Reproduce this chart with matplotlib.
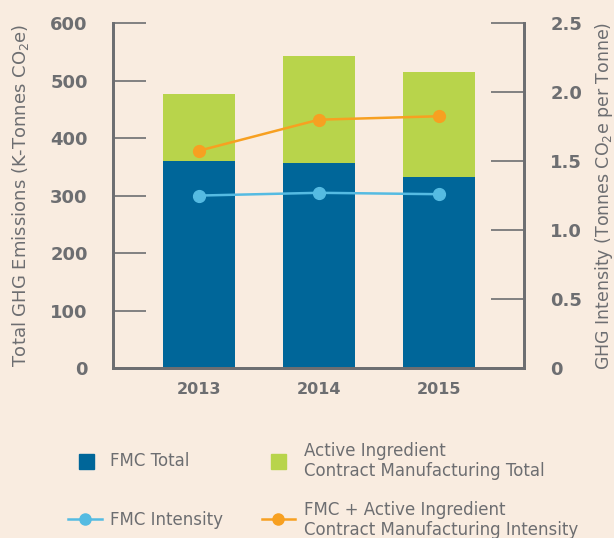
import matplotlib
matplotlib.use("Agg")
import matplotlib.pyplot as plt
from matplotlib.lines import Line2D
from matplotlib.patches import Rectangle

# data
years = ["2013", "2014", "2015"]
fmc_total = [360, 356, 333]
ai_contract_total = [116, 187, 182]
fmc_intensity = [1.25, 1.27, 1.26]
combined_intensity = [1.575, 1.80, 1.825]

left_ticks = [0, 100, 200, 300, 400, 500, 600]
left_labels = ["0", "100", "200", "300", "400", "500", "600"]
right_ticks = [0, 0.5, 1.0, 1.5, 2.0, 2.5]
right_labels = ["0", "0.5", "1.0", "1.5", "2.0", "2.5"]

BG = "#F9ECE0"
GRAY = "#6D6E71"
BLUE = "#006699"
GREEN = "#B8D44B"
LBLUE = "#55BBE2"
ORANGE = "#F7A021"

plt.rcParams["font.family"] = ["DejaVu Sans"]
plt.rcParams["mathtext.fontset"] = "dejavusans"

fig = plt.figure(figsize=(6.14, 5.38), dpi=100, facecolor=BG)
ax = fig.add_axes([0.1835, 0.316, 0.6695, 0.641])
ax.set_facecolor(BG)

x = list(range(len(years)))
ax.bar(x, fmc_total, width=0.6, color=BLUE, zorder=2)
ax.bar(x, ai_contract_total, width=0.6, bottom=fmc_total, color=GREEN, zorder=2)
ax.set_xlim(-0.72, 2.71)
ax.set_ylim(0, 600)
ax.set_yticks(left_ticks)
ax.set_yticklabels(left_labels)
ax.set_xticks(x)
ax.set_xticklabels(years)

ax2 = ax.twinx()
ax2.plot(x, fmc_intensity, color=LBLUE, lw=1.8, marker="o", ms=8.5, zorder=3)
ax2.plot(x, combined_intensity, color=ORANGE, lw=1.8, marker="o", ms=8.5, zorder=3)
ax2.set_ylim(0, 2.5)
ax2.set_yticks(right_ticks)
ax2.set_yticklabels(right_labels)

for a in (ax, ax2):
    a.spines["top"].set_visible(False)
    for s in ("left", "right", "bottom"):
        a.spines[s].set_color(GRAY)
        a.spines[s].set_linewidth(2)

ax.tick_params(axis="y", direction="in", length=24, width=1.2, color=GRAY,
               labelcolor=GRAY, labelsize=13, pad=18)
ax.tick_params(axis="x", length=0, labelcolor=GRAY, labelsize=11.5, pad=10)
ax2.tick_params(axis="y", direction="in", length=24, width=1.2, color=GRAY,
                labelcolor=GRAY, labelsize=13, pad=19)
for lab in ax.get_yticklabels() + ax.get_xticklabels() + ax2.get_yticklabels():
    lab.set_fontweight("bold")

ax.set_ylabel("Total GHG Emissions (K-Tonnes CO$_2$e)", color=GRAY, fontsize=13, labelpad=14)
ax2.set_ylabel("GHG Intensity (Tonnes CO$_2$e per Tonne)", color=GRAY, fontsize=12.5, labelpad=8)

# legend drawn by hand below the plot
W, H = 614.0, 538.0
def fx(px):
    return px / W
def fy(py):
    return 1 - py / H

fig.add_artist(Rectangle((fx(79), fy(469)), 15 / W, 15 / H, color=BLUE, transform=fig.transFigure))
fig.text(fx(110), fy(461), "FMC Total", color=GRAY, fontsize=12, va="center")
fig.add_artist(Rectangle((fx(271), fy(469)), 15 / W, 15 / H, color=GREEN, transform=fig.transFigure))
fig.text(fx(304), fy(461), "Active Ingredient\nContract Manufacturing Total", color=GRAY,
         fontsize=12, va="center", linespacing=1.1)

fig.add_artist(Line2D([fx(68), fx(102)], [fy(519), fy(519)], color=LBLUE, lw=1.8,
                      transform=fig.transFigure))
fig.add_artist(Line2D([fx(85)], [fy(519)], color=LBLUE, marker="o", ms=8,
                      transform=fig.transFigure))
fig.text(fx(110), fy(520), "FMC Intensity", color=GRAY, fontsize=12, va="center")
fig.add_artist(Line2D([fx(262), fx(295)], [fy(519), fy(519)], color=ORANGE, lw=1.8,
                      transform=fig.transFigure))
fig.add_artist(Line2D([fx(278)], [fy(519)], color=ORANGE, marker="o", ms=8,
                      transform=fig.transFigure))
fig.text(fx(304), fy(520), "FMC + Active Ingredient\nContract Manufacturing Intensity", color=GRAY,
         fontsize=12, va="center", linespacing=1.1)

fig.savefig("out.png", dpi=100, facecolor=BG)
